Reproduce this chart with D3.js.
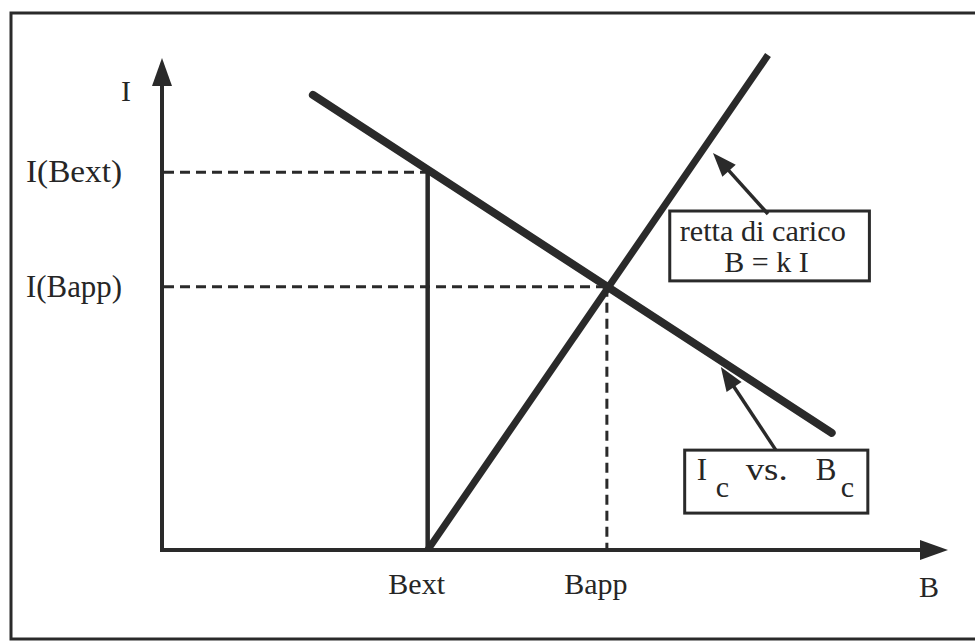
<!DOCTYPE html>
<html>
<head>
<meta charset="utf-8">
<script src="https://cdn.jsdelivr.net/npm/d3@7"></script>
<style>
  body { margin: 0; background: #fff; }
  text { font-family: "Liberation Serif", "Times New Roman", serif; fill: #262626; }
</style>
</head>
<body>
<script>
// chart size (window)
const width = 975, height = 641;

// --- data (abstract units: B on x, I on y, both 0..100) ---
const Bext = 33.8, Bapp = 56.6;
const IBext = 76.8, IBapp = 53.5;

// critical curve Ic vs Bc (falling line)
const critCurve = [ { B: 19.2, I: 92.5 }, { B: 85.2, I: 23.8 } ];
// load line B = k I, starting at Bext
const loadLine = [ { B: Bext, I: 0 }, { B: 77.1, I: 100.6 } ];

const xTickVals = [Bext, Bapp];
const xTickLabels = ['Bext', 'Bapp'];
const yTickVals = [IBext, IBapp];
const yTickLabels = ['I(Bext)', 'I(Bapp)'];

// annotations, in data units: arrow tail -> tip, box corners
const loadNote = { tail: [77.1, 68.3], tip: [70.1, 80.7], box: [64.6, 90.0, 68.9, 54.7] };
const critNote = { tail: [78.1, 20.3], tip: [71.1, 37.2], box: [66.5, 89.8, 20.3, 7.5] };

const ink = '#2a2a2a';

// scales
const x = d3.scaleLinear().domain([0, 100]).range([162, 948]);
const y = d3.scaleLinear().domain([0, 100]).range([550, 58]);

const svg = d3.select('body').append('svg')
    .attr('width', width)
    .attr('height', height);

// frame
svg.append('rect')
    .attr('x', 11).attr('y', 13)
    .attr('width', 975).attr('height', 626)
    .attr('fill', 'none').attr('stroke', ink).attr('stroke-width', 3);

// filled arrow head helper
function arrowHead(x1, y1, x2, y2, len, half) {
    const a = Math.atan2(y2 - y1, x2 - x1);
    const bx = x2 - len * Math.cos(a), by = y2 - len * Math.sin(a);
    const px = -Math.sin(a) * half, py = Math.cos(a) * half;
    svg.append('path')
        .attr('d', `M${x2},${y2}L${bx + px},${by + py}L${bx - px},${by - py}Z`)
        .attr('fill', ink);
}

// axes
const x0 = x(0), y0 = y(0);
svg.append('line')
    .attr('x1', x0).attr('y1', y0).attr('x2', x(100) - 20).attr('y2', y0)
    .attr('stroke', ink).attr('stroke-width', 4);
arrowHead(x0, y0, x(100), y0, 28, 10);
svg.append('line')
    .attr('x1', x0).attr('y1', y0 + 2).attr('x2', x0).attr('y2', y(100) + 20)
    .attr('stroke', ink).attr('stroke-width', 4);
arrowHead(x0, y0, x0, y(100), 28, 10);

// dashed guides
const dash = '10,6';
svg.selectAll('.hguide')
    .data([ { I: IBext, B: Bext }, { I: IBapp, B: Bapp } ])
    .enter().append('line')
    .attr('class', 'hguide')
    .attr('x1', x0 + 2).attr('x2', d => x(d.B))
    .attr('y1', d => y(d.I)).attr('y2', d => y(d.I))
    .attr('stroke', ink).attr('stroke-width', 3).attr('stroke-dasharray', dash);
svg.append('line')
    .attr('x1', x(Bapp)).attr('x2', x(Bapp))
    .attr('y1', y(IBapp)).attr('y2', y0)
    .attr('stroke', ink).attr('stroke-width', 3).attr('stroke-dasharray', dash);

// solid vertical at Bext
svg.append('line')
    .attr('x1', x(Bext)).attr('x2', x(Bext))
    .attr('y1', y(IBext)).attr('y2', y0)
    .attr('stroke', ink).attr('stroke-width', 4.5);

const line = d3.line().x(d => x(d.B)).y(d => y(d.I));

// load line
svg.append('path')
    .attr('d', line(loadLine))
    .attr('fill', 'none').attr('stroke', ink).attr('stroke-width', 7);

// critical curve
svg.append('path')
    .attr('d', line(critCurve))
    .attr('fill', 'none').attr('stroke', ink).attr('stroke-width', 8)
    .attr('stroke-linecap', 'round');

// tick labels
svg.selectAll('.xlab')
    .data(xTickVals)
    .enter().append('text')
    .attr('class', 'xlab')
    .attr('x', d => x(d) - 11).attr('y', 594)
    .attr('text-anchor', 'middle').attr('font-size', 30)
    .text((d, i) => xTickLabels[i]);

svg.selectAll('.ylab')
    .data(yTickVals)
    .enter().append('text')
    .attr('class', 'ylab')
    .attr('x', x0 - 40).attr('y', d => y(d) + 10)
    .attr('text-anchor', 'end').attr('font-size', 31)
    .attr('textLength', 96).attr('lengthAdjust', 'spacingAndGlyphs')
    .text((d, i) => yTickLabels[i]);

// axis names
svg.append('text').attr('x', 929).attr('y', 597)
    .attr('text-anchor', 'middle').attr('font-size', 30).text('B');
svg.append('text').attr('x', 126).attr('y', 101)
    .attr('text-anchor', 'middle').attr('font-size', 30).text('I');

// annotation boxes
function note(n) {
    const [b1, b2, i1, i2] = n.box;
    svg.append('rect')
        .attr('x', x(b1)).attr('y', y(i1))
        .attr('width', x(b2) - x(b1)).attr('height', y(i2) - y(i1))
        .attr('fill', '#fff').attr('stroke', ink).attr('stroke-width', 3);
    const tx = x(n.tail[0]), ty = y(n.tail[1]), hx = x(n.tip[0]), hy = y(n.tip[1]);
    const a = Math.atan2(hy - ty, hx - tx);
    svg.append('line')
        .attr('x1', tx).attr('y1', ty)
        .attr('x2', hx - 18 * Math.cos(a)).attr('y2', hy - 18 * Math.sin(a))
        .attr('stroke', ink).attr('stroke-width', 3.5);
    arrowHead(tx, ty, hx, hy, 24, 9);
    return { left: x(b1), top: y(i1), right: x(b2) };
}

const lb = note(loadNote);
svg.append('text').attr('x', lb.left + 10).attr('y', lb.top + 30)
    .attr('font-size', 30).attr('textLength', 166).attr('lengthAdjust', 'spacingAndGlyphs')
    .text('retta di carico');
svg.append('text').attr('x', (lb.left + lb.right) / 2 - 3).attr('y', lb.top + 61)
    .attr('text-anchor', 'middle').attr('font-size', 30).text('B = k I');

const cb = note(critNote);
const cap = svg.append('g').attr('transform', `translate(${cb.left},${cb.top})`);
cap.append('text').attr('x', 12).attr('y', 30).attr('font-size', 31).text('I');
cap.append('text').attr('x', 31).attr('y', 47).attr('font-size', 30).text('c');
cap.append('text').attr('x', 61).attr('y', 30).attr('font-size', 31)
    .attr('textLength', 42).attr('lengthAdjust', 'spacingAndGlyphs').text('vs.');
cap.append('text').attr('x', 131).attr('y', 30).attr('font-size', 31).text('B');
cap.append('text').attr('x', 156).attr('y', 47).attr('font-size', 30).text('c');
</script>
</body>
</html>
